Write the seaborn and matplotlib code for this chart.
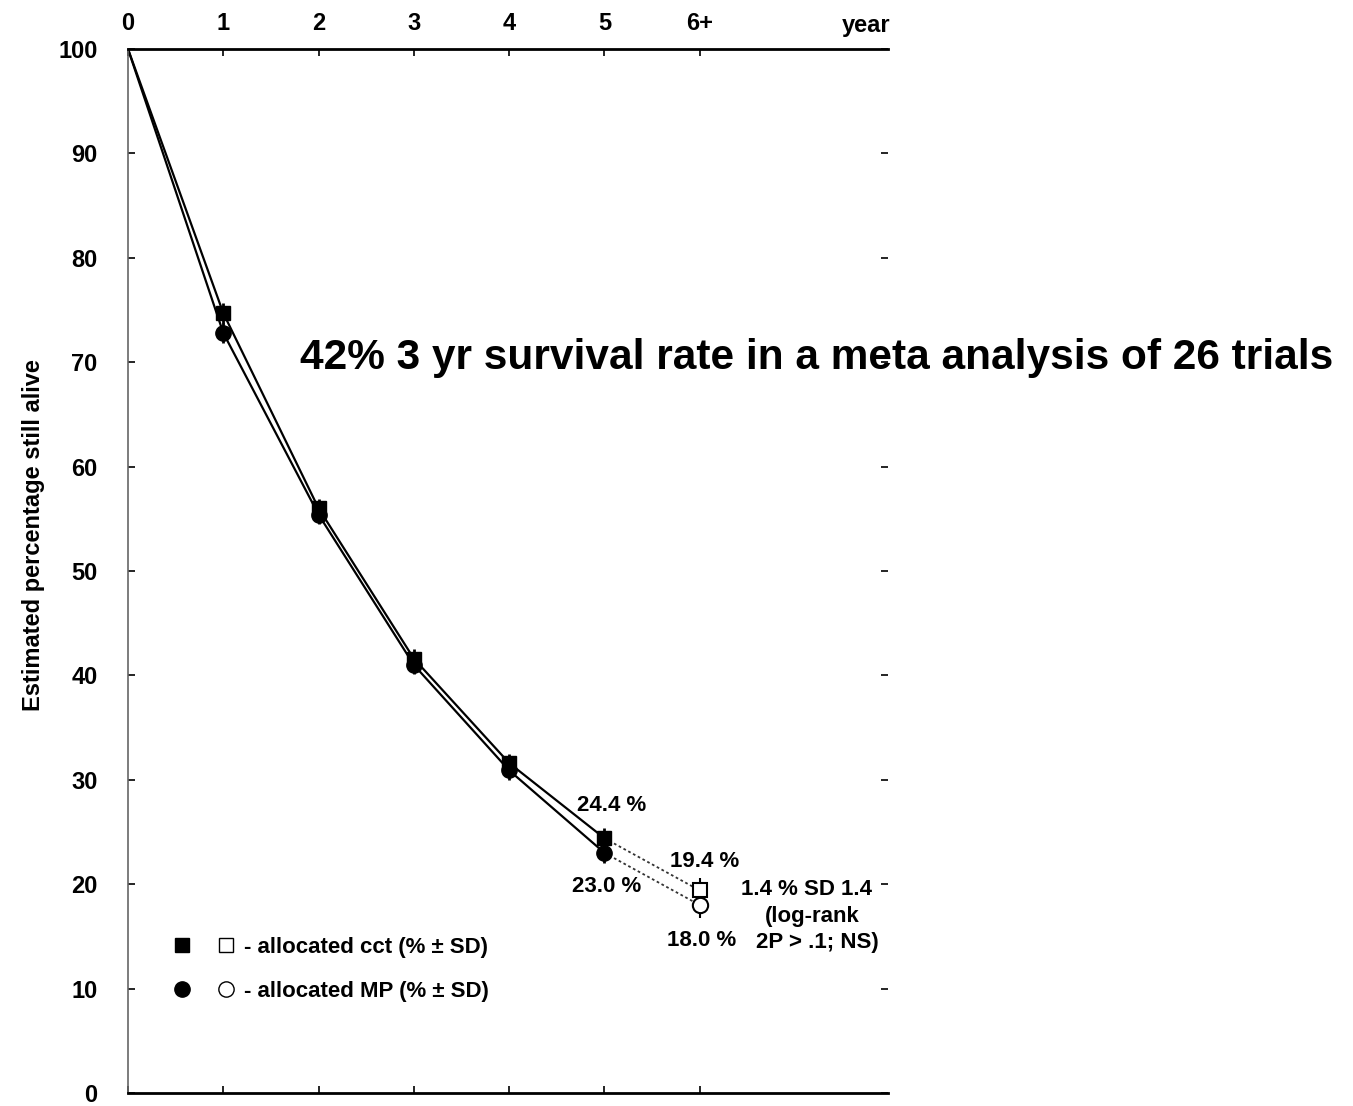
import numpy as np
import pandas as pd
import matplotlib
matplotlib.use("Agg")
import matplotlib.pyplot as plt
import seaborn as sns
from matplotlib.legend_handler import HandlerTuple
from matplotlib.lines import Line2D

# ---- data ----
years = [0, 1, 2, 3, 4, 5]
year_ticks = [0, 1, 2, 3, 4, 5, 6]
year_labels = ["0", "1", "2", "3", "4", "5", "6+"]
cct_pct = [100, 74.7, 56.0, 41.6, 31.6, 24.4]
mp_pct = [100, 72.8, 55.4, 41.0, 30.9, 23.0]
cct_sd = [0, 1.0, 0.9, 0.9, 0.9, 1.0]
mp_sd = [0, 1.0, 0.9, 0.9, 0.9, 1.0]
late_year = [5, 6]
cct_late = [24.4, 19.4]
mp_late = [23.0, 18.0]
late_sd = [1.2, 1.2]
y_ticks = [0, 10, 20, 30, 40, 50, 60, 70, 80, 90, 100]

sns.set_theme(style="white")
plt.rcParams["font.family"] = ["Liberation Sans", "DejaVu Sans"]
plt.rcParams["text.color"] = "black"
plt.rcParams["xtick.color"] = "black"
plt.rcParams["ytick.color"] = "black"

fig = plt.figure(figsize=(13.53, 11.06), dpi=100)
ax = fig.add_axes([128/1353, 1-1093/1106, (888-128)/1353, (1093-49)/1106])

df_main = pd.DataFrame({
    "year": years + years,
    "pct": cct_pct + mp_pct,
    "group": ["cct"]*len(years) + ["MP"]*len(years),
})
df_late = pd.DataFrame({
    "year": late_year + late_year,
    "pct": cct_late + mp_late,
    "group": ["cct"]*2 + ["MP"]*2,
})

sns.lineplot(data=df_main, x="year", y="pct", units="group", estimator=None,
             color="black", lw=1.6, ax=ax, legend=False)
sns.lineplot(data=df_late, x="year", y="pct", units="group", estimator=None,
             color="#333333", lw=1.3, ax=ax, legend=False)
for l in ax.lines[2:]:
    l.set_linestyle((0, (1.5, 1.5)))

# markers with SD bars (years 1-5 filled)
ax.errorbar(years[1:], cct_pct[1:], yerr=cct_sd[1:], fmt="s", ms=10,
            mfc="black", mec="black", ecolor="black", elinewidth=2, capsize=0, zorder=5)
ax.errorbar(years[1:], mp_pct[1:], yerr=mp_sd[1:], fmt="o", ms=11,
            mfc="black", mec="black", ecolor="black", elinewidth=2, capsize=0, zorder=5)
# open markers at 6+
ax.errorbar([late_year[1]], [cct_late[1]], yerr=[late_sd[0]], fmt="s", ms=10,
            mfc="white", mec="black", mew=1.5, ecolor="black", elinewidth=1.5, capsize=0, zorder=6)
ax.errorbar([late_year[1]], [mp_late[1]], yerr=[late_sd[1]], fmt="o", ms=11,
            mfc="white", mec="black", mew=1.5, ecolor="black", elinewidth=1.5, capsize=0, zorder=6)

ax.set_xlim(0, 7.975)
ax.set_ylim(0, 100)
ax.set_xticks(year_ticks)
ax.set_xticklabels(year_labels)
ax.set_yticks(y_ticks)
ax.set_yticklabels([str(v) for v in y_ticks])
ax.xaxis.tick_top()
ax.tick_params(axis="x", which="both", top=True, bottom=True, direction="in",
               length=5, width=1.2, colors="black", labelsize=17, pad=10)
ax.tick_params(axis="y", which="both", left=True, right=True, direction="in",
               length=5, width=1.2, colors="black", labelsize=17, pad=22)
for lab in ax.get_xticklabels() + ax.get_yticklabels():
    lab.set_fontweight("bold")
ax.set_xlabel("")
ax.set_ylabel("")
for side in ["top", "bottom"]:
    ax.spines[side].set_color("black")
    ax.spines[side].set_linewidth(2)
ax.spines["left"].set_color("#666666")
ax.spines["left"].set_linewidth(1.2)
ax.spines["right"].set_visible(False)

ax.text(7.75, 1.0 + 12/1044, "year", transform=ax.get_xaxis_transform(), ha="center",
        va="bottom", fontsize=17, fontweight="bold", color="black", clip_on=False)

fig.text(0.025, 0.516, "Estimated percentage still alive", rotation=90,
         ha="center", va="center", fontsize=17, fontweight="bold", color="black")

# annotations
ann_kw = dict(fontsize=16, ha="center", va="center", fontweight="bold", color="black")
ax.text(5.08, 27.5, "24.4 %", **ann_kw)
ax.text(5.02, 19.8, "23.0 %", **ann_kw)
ax.text(6.05, 22.2, "19.4 %", **ann_kw)
ax.text(6.02, 14.65, "18.0 %", **ann_kw)
ax.text(7.12, 19.45, "1.4 % SD 1.4", **ann_kw)
ax.text(7.18, 16.9, "(log-rank", **ann_kw)
ax.text(7.23, 14.4, "2P > .1; NS)", **ann_kw)

# legend
h1 = (Line2D([], [], marker="s", ms=10, color="black", ls="none"),
      Line2D([], [], marker="s", ms=10, mfc="white", mec="black", ls="none"))
h2 = (Line2D([], [], marker="o", ms=11, color="black", ls="none"),
      Line2D([], [], marker="o", ms=11, mfc="white", mec="black", ls="none"))
leg = ax.legend([h1, h2], ["- allocated cct (% ± SD)", "- allocated MP (% ± SD)"],
                handler_map={tuple: HandlerTuple(ndivide=None, pad=1.0)},
                loc="lower left", bbox_to_anchor=(0.03, 0.068), frameon=False,
                prop={"size": 16, "weight": "bold"}, handlelength=3.0,
                handletextpad=0.3, labelspacing=1.05)
for t in leg.get_texts():
    t.set_color("black")

fig.text(300/1353, 1-358/1106, "42% 3 yr survival rate in a meta analysis of 26 trials",
         ha="left", va="center", fontsize=30.5, fontweight="bold", color="black")

fig.savefig("out.png", dpi=100)
